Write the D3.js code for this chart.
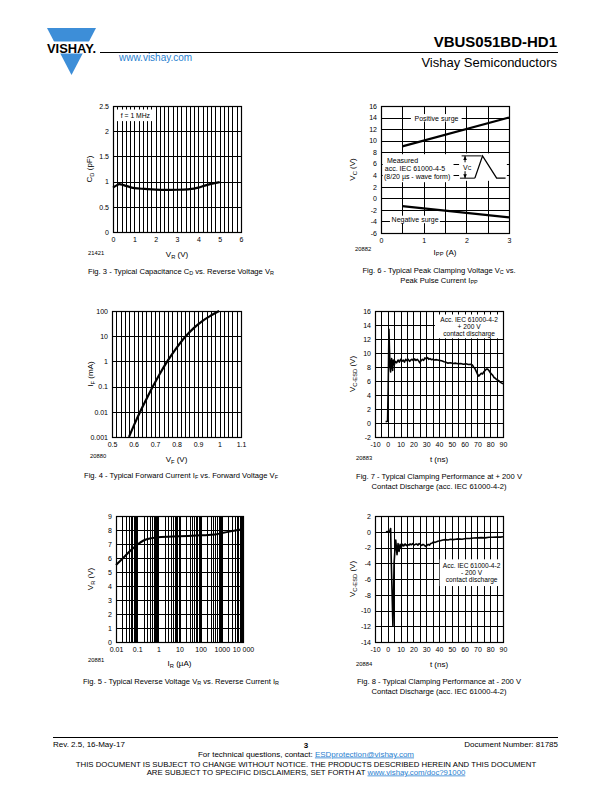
<!DOCTYPE html>
<html><head><meta charset="utf-8">
<script src="https://cdn.jsdelivr.net/npm/d3@7"></script>
<style>
body{margin:0;background:#fff}
svg{display:block}
</style></head><body>
<svg id="page" width="612" height="792"></svg>
<script>
// ================= DATA =================
// Fig. 3 - capacitance vs reverse voltage
const fig3VR = [0, 0.15, 0.3, 0.5, 0.8, 1, 1.5, 2, 2.5, 3, 3.5, 3.8, 4, 4.3, 4.6, 5];
const fig3CD = [0.88, 0.92, 0.95, 0.93, 0.89, 0.87, 0.855, 0.842, 0.836, 0.838, 0.846, 0.86, 0.88, 0.92, 0.955, 0.99];
const fig3XTicks = [0, 1, 2, 3, 4, 5, 6];
const fig3YTicks = [0, 0.5, 1, 1.5, 2, 2.5];

// Fig. 6 - peak clamping voltage vs peak pulse current
const fig6IPP = [0.5, 3];
const fig6PosVC = [9.0, 14.0];
const fig6NegVC = [-1.35, -3.3];
const fig6XTicks = [0, 1, 2, 3];
const fig6YTicks = [-6, -4, -2, 0, 2, 4, 6, 8, 10, 12, 14, 16];

// Fig. 4 - forward current vs forward voltage
const fig4VF = [0.579, 0.604, 0.631, 0.66, 0.69, 0.722, 0.757, 0.797, 0.843, 0.88, 0.92, 0.96, 0.998];
const fig4IF = [0.001, 0.00316, 0.01, 0.0316, 0.1, 0.316, 1, 3.16, 10, 21, 40, 66, 100];
const fig4XTicks = [0.5, 0.6, 0.7, 0.8, 0.9, 1, 1.1];
const fig4XLabels = ["0.5", "0.6", "0.7", "0.8", "0.9", "1", "1.1"];
const fig4YTicks = [0.001, 0.01, 0.1, 1, 10, 100];
const fig4YLabels = ["0.001", "0.01", "0.1", "1", "10", "100"];

// Fig. 7 - clamping at +200 V contact discharge
const fig7T = [-1.7, -0.2, 0.3, 0.9, 1.3, 1.8, 2.2, 2.6, 3.0, 3.4, 3.8, 4.3, 5.1, 5.8, 6.9, 8, 9, 10, 11, 12, 13, 14, 15, 16, 17, 18, 19, 20, 21, 22, 23, 24, 25, 26, 27, 28, 29, 30, 31, 32, 33, 34, 35, 36, 38, 40, 42, 44, 45, 47, 49, 51, 53, 55, 57, 59, 61, 63, 65, 66, 67, 68, 69, 70, 71, 72, 73, 74, 75, 76, 77, 78, 79, 80, 81, 82, 83, 84, 85, 86, 87, 88, 89, 90];
const fig7V = [0.2, 0.25, 5, 13.4, 10.5, 8, 7.3, 8.5, 9.2, 8.2, 7.5, 9.0, 8.3, 8.8, 8.6, 9.0, 8.7, 9.1, 8.8, 9.0, 8.7, 9.1, 8.9, 9.1, 8.8, 9.0, 9.1, 8.9, 9.15, 8.95, 9.1, 8.9, 8.6, 8.9, 9.1, 8.95, 9.3, 9.15, 9.35, 9.1, 9.2, 9.05, 9.1, 9.0, 9.05, 8.95, 8.9, 8.75, 8.7, 8.55, 8.6, 8.5, 8.55, 8.45, 8.5, 8.4, 8.45, 8.35, 8.4, 8.3, 8.0, 7.8, 7.4, 7.0, 6.7, 6.9, 7.1, 7.0, 7.3, 7.5, 7.7, 7.7, 7.5, 7.2, 7.0, 6.8, 6.5, 6.4, 6.2, 6.1, 6.0, 5.8, 5.7, 5.6, 5.6];
const fig7XTicks = [-10, 0, 10, 20, 30, 40, 50, 60, 70, 80, 90];
const fig7YTicks = [-2, 0, 2, 4, 6, 8, 10, 12, 14, 16];

// Fig. 5 - reverse voltage vs reverse current
const fig5IR = [0.01, 0.02, 0.05, 0.1, 0.2, 0.5, 1, 10, 100, 500, 1000, 3000, 10000];
const fig5VR = [5.5, 5.95, 6.55, 6.95, 7.25, 7.42, 7.48, 7.55, 7.62, 7.68, 7.78, 7.92, 8.05];
const fig5XTicks = [0.01, 0.1, 1, 10, 100, 1000, 10000];
const fig5XLabels = ["0.01", "0.1", "1", "10", "100", "1000", "10 000"];
const fig5YTicks = [0, 1, 2, 3, 4, 5, 6, 7, 8, 9];

// Fig. 8 - clamping at -200 V contact discharge
const fig8T = [-1.5, 1.5, 2.2, 2.6, 4.0, 4.4, 4.9, 5.4, 6.2, 7.2, 8.0, 8.8, 9.6, 10.5, 11.5, 12.5, 13.5, 14.5, 15.5, 16.5, 17.5, 18.5, 19.5, 20.5, 21.5, 22.5, 23.5, 24.5, 25.5, 26.5, 27.5, 28.5, 29.5, 30.5, 31.5, 32.5, 33.5, 34.5, 35.5, 37, 39, 41, 43, 45, 47, 49, 51, 53, 55, 58, 61, 64, 67, 70, 73, 76, 79, 82, 85, 88, 90];
const fig8V = [0, 0.05, 0.4, -3, -12, -9, -4, -2.75, -1.05, -2.9, -1.5, -2.5, -1.6, -2.0, -1.6, -1.8, -1.55, -1.75, -1.6, -1.7, -1.55, -1.65, -1.5, -1.7, -1.6, -1.55, -1.7, -1.5, -1.6, -1.75, -1.6, -1.7, -1.85, -1.75, -1.6, -1.7, -1.5, -1.45, -1.3, -1.35, -1.2, -1.15, -1.05, -1.0, -1.05, -0.95, -1.0, -0.95, -0.9, -0.95, -0.85, -0.85, -0.8, -0.78, -0.75, -0.78, -0.7, -0.7, -0.66, -0.68, -0.64];
const fig8XTicks = [-10, 0, 10, 20, 30, 40, 50, 60, 70, 80, 90];
const fig8YTicks = [-14, -12, -10, -8, -6, -4, -2, 0, 2];

// ================= DRAWING =================
const FONT = '"Liberation Sans", Arial, Helvetica, sans-serif';
const BLUE = '#3d8ed8';
const LINK = '#2a7fd0';
const CAP = 7.6;
const svg = d3.select('#page');
svg.append('rect').attr('width', 612).attr('height', 792).attr('fill', '#fff');

function rich(t, str, fs) {
  const re = /_\{([^}]*)\}/g;
  let last = 0, m; const parts = [];
  while ((m = re.exec(str))) {
    if (m.index > last) parts.push([str.slice(last, m.index), false]);
    parts.push([m[1], true]); last = re.lastIndex;
  }
  if (last < str.length) parts.push([str.slice(last), false]);
  let shifted = false;
  parts.forEach(([s, sub]) => {
    const ts = t.append('tspan').text(s);
    if (sub) { ts.attr('font-size', fs * 0.72).attr('dy', shifted ? 0 : fs * 0.24); shifted = true; }
    else if (shifted) { ts.attr('dy', -fs * 0.24); shifted = false; }
  });
}
function txt(parent, x, y, str, fs, anchor, fill) {
  const t = parent.append('text').attr('x', x).attr('y', y).attr('font-size', fs)
    .attr('font-family', FONT).attr('text-anchor', anchor || 'start').attr('fill', fill || '#000');
  rich(t, str, fs);
  return t;
}
function rtxt(cx, cy, str, fs) {
  const t = svg.append('text').attr('transform', `translate(${cx},${cy}) rotate(-90)`)
    .attr('font-size', fs).attr('font-family', FONT).attr('text-anchor', 'middle');
  rich(t, str, fs);
}

function panel(o) {
  const g = svg.append('g');
  const x = (o.xLog ? d3.scaleLog() : d3.scaleLinear()).domain(o.xDomain).range([o.L, o.R]);
  const y = (o.yLog ? d3.scaleLog() : d3.scaleLinear()).domain(o.yDomain).range([o.B, o.T]);
  const px = v => Math.round(x(v)) + 0.5, py = v => Math.round(y(v)) + 0.5;
  g.append('g').selectAll('line').data(o.xGrid).join('line')
    .attr('x1', px).attr('x2', px).attr('y1', o.T).attr('y2', o.B)
    .attr('stroke', '#000').attr('stroke-width', 1);
  g.append('g').selectAll('line').data(o.yGrid).join('line')
    .attr('y1', py).attr('y2', py).attr('x1', o.L).attr('x2', o.R)
    .attr('stroke', '#000').attr('stroke-width', 1);
  if (o.boxes) o.boxes(g, x, y);
  o.series.forEach(s => {
    g.append('path').datum(d3.zip(s.x, s.y))
      .attr('d', d3.line().x(d => x(d[0])).y(d => y(d[1])).curve(s.curve || d3.curveLinear))
      .attr('fill', 'none').attr('stroke', '#000').attr('stroke-width', s.w)
      .attr('stroke-linejoin', 'round').attr('stroke-linecap', 'butt');
  });
  if (o.after) o.after(g, x, y);
  g.append('rect').attr('x', Math.round(o.L) + 0.5).attr('y', Math.round(o.T) + 0.5)
    .attr('width', Math.round(o.R) - Math.round(o.L)).attr('height', Math.round(o.B) - Math.round(o.T))
    .attr('fill', 'none').attr('stroke', '#000').attr('stroke-width', 1.2);
  const ax = g.append('g').attr('transform', `translate(0,${o.B})`)
    .call(d3.axisBottom(x).tickValues(o.xTicks).tickFormat((d, i) => o.xLabels ? o.xLabels[i] : String(d)).tickSize(0).tickPadding(5));
  const ay = g.append('g').attr('transform', `translate(${o.L},0)`)
    .call(d3.axisLeft(y).tickValues(o.yTicks).tickFormat((d, i) => o.yLabels ? o.yLabels[i] : String(d)).tickSize(0).tickPadding(4));
  [ax, ay].forEach(a => {
    a.select('.domain').remove();
    a.attr('font-family', null).attr('font-size', null);
    a.selectAll('text').attr('font-size', 7).attr('font-family', FONT).attr('fill', '#000');
  });
  return { x, y, g };
}
function wbox(g, x, y, x0, x1, y0, y1) {
  g.append('rect').attr('x', x(x0)).attr('y', y(y0)).attr('width', x(x1) - x(x0)).attr('height', y(y1) - y(y0)).attr('fill', '#fff');
}
function ctext(g, xx, yy, str, fs, anchor) {
  const t = txt(g, xx, yy, str, fs, anchor || 'middle');
  t.attr('dominant-baseline', 'central');
  return t;
}

// ---------- Header ----------
svg.append('polygon').attr('points', '47,28 96,28 71.5,75').attr('fill', BLUE);
svg.append('rect').attr('x', 44).attr('y', 41.5).attr('width', 56).attr('height', 12).attr('fill', '#fff');
svg.append('text').attr('x', 47).attr('y', 52.5).attr('font-family', FONT).attr('font-weight', 'bold')
  .attr('font-size', 13).attr('textLength', 49).attr('lengthAdjust', 'spacingAndGlyphs').text('VISHAY.');
svg.append('line').attr('x1', 100).attr('x2', 558).attr('y1', 52.5).attr('y2', 52.5).attr('stroke', '#000').attr('stroke-width', 1);
svg.append('text').attr('x', 557).attr('y', 46.5).attr('font-family', FONT).attr('font-weight', 'bold')
  .attr('font-size', 15).attr('text-anchor', 'end').text('VBUS051BD-HD1');
svg.append('text').attr('x', 557).attr('y', 66.5).attr('font-family', FONT)
  .attr('font-size', 13).attr('text-anchor', 'end').text('Vishay Semiconductors');
svg.append('text').attr('x', 119).attr('y', 61).attr('font-family', FONT).attr('fill', LINK)
  .attr('font-size', 10).text('www.vishay.com');

// ---------- Fig. 3 ----------
panel({
  L: 113, R: 241, T: 106, B: 232, xDomain: [0, 6], yDomain: [0, 2.5],
  xGrid: d3.range(0, 31).map(i => i * 0.2), yGrid: fig3YTicks,
  xTicks: fig3XTicks, yTicks: fig3YTicks,
  series: [{ x: fig3VR, y: fig3CD, w: 2.2, curve: d3.curveMonotoneX }],
  boxes: (g, x, y) => { wbox(g, x, y, 0.13, 1.97, 2.43, 2.2); ctext(g, x(1.05), y(2.315), 'f = 1 MHz', 6.8); }
});
txt(svg, 177, 257, 'V_{R} (V)', 8, 'middle');
rtxt(92, 169, 'C_{D} (pF)', 8);
txt(svg, 88, 255, '21421', 5.8);
txt(svg, 181, 273.5, 'Fig. 3 - Typical Capacitance C_{D} vs. Reverse Voltage V_{R}', CAP, 'middle');

// ---------- Fig. 6 ----------
panel({
  L: 381, R: 509, T: 106, B: 233, xDomain: [0, 3], yDomain: [-6, 16],
  xGrid: [0.5, 1, 1.5, 2, 2.5], yGrid: fig6YTicks,
  xTicks: fig6XTicks, yTicks: fig6YTicks,
  series: [{ x: fig6IPP, y: fig6PosVC, w: 2.2 }, { x: fig6IPP, y: fig6NegVC, w: 2.2 }],
  boxes: (g, x, y) => {
    wbox(g, x, y, 0.7, 1.89, 14.6, 13.3); ctext(g, x(1.3), y(14.0), 'Positive surge', 7);
    wbox(g, x, y, 0.21, 1.38, -3.0, -4.3); ctext(g, x(0.8), y(-3.65), 'Negative surge', 7);
    wbox(g, x, y, 0.04, 1.7, 7.65, 2.8);
    ctext(g, x(0.14), y(6.67), 'Measured', 7, 'start');
    ctext(g, x(0.09), y(5.23), 'acc. IEC 61000-4-5', 7, 'start');
    ctext(g, x(0.07), y(3.96), '(8/20 µs - wave form)', 7, 'start');
    wbox(g, x, y, 1.83, 2.95, 7.8, 3.04);
  },
  after: (g, x, y) => {
    const ln = (a, b, c, d, w) => g.append('line').attr('x1', x(a)).attr('y1', y(b)).attr('x2', x(c)).attr('y2', y(d)).attr('stroke', '#000').attr('stroke-width', w || 1);
    ln(1.89, 7.36, 2.36, 7.36); ln(1.85, 3.5, 2.2, 3.5);
    g.append('path').attr('d', d3.line().x(d => x(d[0])).y(d => y(d[1]))([[2.2, 3.5], [2.38, 7.36], [2.71, 3.5], [2.92, 3.5]]))
      .attr('fill', 'none').attr('stroke', '#000').attr('stroke-width', 1.3);
    const ax = x(1.97);
    ln(1.97, 7.36, 1.97, 6.25); ln(1.97, 4.7, 1.97, 3.5);
    g.append('path').attr('d', `M${ax},${y(7.36)} l-1.8,4 h3.6 Z M${ax},${y(3.5)} l-1.8,-4 h3.6 Z`).attr('fill', '#000');
    ctext(g, x(2.02), y(5.5), 'V_{C}', 7);
  }
});
txt(svg, 445, 254.5, 'I_{PP} (A)', 8, 'middle');
rtxt(355, 169.5, 'V_{C} (V)', 8);
txt(svg, 355, 251, '20882', 5.8);
txt(svg, 439, 272.5, 'Fig. 6 - Typical Peak Clamping Voltage V_{C} vs.', CAP, 'middle');
txt(svg, 439, 282.5, 'Peak Pulse Current I_{PP}', CAP, 'middle');

// ---------- Fig. 4 ----------
panel({
  L: 112, R: 241, T: 311, B: 437, xDomain: [0.5, 1.1], yDomain: [0.001, 100], yLog: true,
  xGrid: d3.range(0, 31).map(i => 0.5 + i * 0.02), yGrid: fig4YTicks,
  xTicks: fig4XTicks, xLabels: fig4XLabels, yTicks: fig4YTicks, yLabels: fig4YLabels,
  series: [{ x: fig4VF, y: fig4IF, w: 2.2, curve: d3.curveMonotoneX }]
});
txt(svg, 176.5, 462, 'V_{F} (V)', 8, 'middle');
rtxt(93, 374, 'I_{F} (mA)', 8);
txt(svg, 90, 458, '20880', 5.8);
txt(svg, 181, 477.5, 'Fig. 4 - Typical Forward Current I_{F} vs. Forward Voltage V_{F}', CAP, 'middle');

// ---------- Fig. 7 ----------
panel({
  L: 375, R: 503, T: 311, B: 437, xDomain: [-10, 90], yDomain: [-2, 16],
  xGrid: d3.range(0, 21).map(i => -10 + i * 5), yGrid: fig7YTicks,
  xTicks: fig7XTicks, yTicks: fig7YTicks,
  series: [{ x: fig7T, y: fig7V, w: 1.6 }],
  boxes: (g, x, y) => {
    wbox(g, x, y, 36.8, 90, 15.5, 12.1);
    ctext(g, x(63.5), y(14.8), 'Acc. IEC 61000-4-2', 6.6);
    ctext(g, x(63.5), y(13.8), '+ 200 V', 6.6);
    ctext(g, x(63.5), y(12.8), 'contact discharge', 6.6);
  }
});
txt(svg, 439, 462, 't (ns)', 8, 'middle');
rtxt(355, 374, 'V_{C-ESD} (V)', 8);
txt(svg, 356, 460, '20883', 5.8);
txt(svg, 439, 478.5, 'Fig. 7 - Typical Clamping Performance at + 200 V', CAP, 'middle');
txt(svg, 439, 488.5, 'Contact Discharge (acc. IEC 61000-4-2)', CAP, 'middle');

// ---------- Fig. 5 ----------
const fig5Grid = [];
for (let d = -2; d < 4; d++) for (let k = 1; k <= 9; k++) fig5Grid.push(k * Math.pow(10, d));
fig5Grid.push(10000);
panel({
  L: 116, R: 243, T: 516, B: 642, xDomain: [0.01, 10000], xLog: true, yDomain: [0, 9],
  xGrid: fig5Grid, yGrid: fig5YTicks,
  xTicks: fig5XTicks, xLabels: fig5XLabels, yTicks: fig5YTicks,
  series: [{ x: fig5IR, y: fig5VR, w: 2, curve: d3.curveMonotoneX }]
});
txt(svg, 179.5, 666, 'I_{R} (µA)', 8, 'middle');
rtxt(93, 579, 'V_{R} (V)', 8);
txt(svg, 88, 662, '20881', 5.8);
txt(svg, 181, 683.5, 'Fig. 5 - Typical Reverse Voltage V_{R} vs. Reverse Current I_{R}', CAP, 'middle');

// ---------- Fig. 8 ----------
panel({
  L: 375, R: 503, T: 516, B: 642, xDomain: [-10, 90], yDomain: [-14, 2],
  xGrid: d3.range(0, 21).map(i => -10 + i * 5), yGrid: fig8YTicks,
  xTicks: fig8XTicks, yTicks: fig8YTicks,
  series: [{ x: fig8T, y: fig8V, w: 1.6 }],
  boxes: (g, x, y) => {
    wbox(g, x, y, 40.5, 90, -3.5, -6.9);
    ctext(g, x(65.5), y(-4.25), 'Acc. IEC 61000-4-2', 6.6);
    ctext(g, x(65.5), y(-5.15), '- 200 V', 6.6);
    ctext(g, x(65.5), y(-6.05), 'contact discharge', 6.6);
  }
});
txt(svg, 439, 667, 't (ns)', 8, 'middle');
rtxt(355, 579, 'V_{C-ESD} (V)', 8);
txt(svg, 356, 666, '20884', 5.8);
txt(svg, 439, 683.5, 'Fig. 8 - Typical Clamping Performance at - 200 V', CAP, 'middle');
txt(svg, 439, 693.5, 'Contact Discharge (acc. IEC 61000-4-2)', CAP, 'middle');

// ---------- Footer ----------
svg.append('line').attr('x1', 53).attr('x2', 558).attr('y1', 737.5).attr('y2', 737.5).attr('stroke', '#000').attr('stroke-width', 1);
txt(svg, 53, 746.5, 'Rev. 2.5, 16-May-17', 8);
txt(svg, 306, 747.5, '3', 8, 'middle').attr('font-weight', 'bold');
txt(svg, 558, 746.5, 'Document Number: 81785', 8, 'end');
const f1 = svg.append('text').attr('x', 306).attr('y', 756.5).attr('font-family', FONT).attr('font-size', 8).attr('text-anchor', 'middle');
f1.append('tspan').text('For technical questions, contact: ');
f1.append('tspan').attr('fill', LINK).attr('text-decoration', 'underline').text('ESDprotection@vishay.com');
txt(svg, 306, 766.5, 'THIS DOCUMENT IS SUBJECT TO CHANGE WITHOUT NOTICE. THE PRODUCTS DESCRIBED HEREIN AND THIS DOCUMENT', 7.8, 'middle');
const f2 = svg.append('text').attr('x', 306).attr('y', 774.5).attr('font-family', FONT).attr('font-size', 7.8).attr('text-anchor', 'middle');
f2.append('tspan').text('ARE SUBJECT TO SPECIFIC DISCLAIMERS, SET FORTH AT ');
f2.append('tspan').attr('fill', LINK).attr('text-decoration', 'underline').text('www.vishay.com/doc?91000');
</script>
</body></html>
